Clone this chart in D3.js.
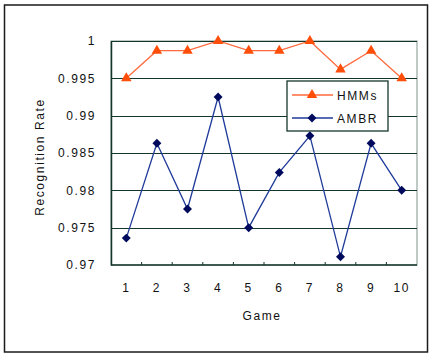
<!DOCTYPE html>
<html>
<head>
<meta charset="utf-8">
<script src="https://cdn.jsdelivr.net/npm/d3@7"></script>
<style>
  html, body { margin: 0; padding: 0; background: #fff; }
  svg text { font-family: "Liberation Sans", Arial, sans-serif; font-size: 12px; letter-spacing: 1.6px; fill: #111; }
</style>
</head>
<body>
<svg id="chart" width="430" height="354"></svg>
<script>
// Game numbers on the x axis
const games = ["1", "2", "3", "4", "5", "6", "7", "8", "9", "10"];
// Recognition rate per game
const hmms = [0.995, 0.9987, 0.9987, 1.0, 0.9987, 0.9987, 1.0, 0.9962, 0.9987, 0.995];
const ambr = [0.9736, 0.9863, 0.9775, 0.9925, 0.9750, 0.9824, 0.9873, 0.9711, 0.9863, 0.9800];
// Y tick values
const yTicks = [0.97, 0.975, 0.98, 0.985, 0.99, 0.995, 1];
const yTickLabels = ["0.97", "0.975", "0.98", "0.985", "0.99", "0.995", "1"];

const svg = d3.select("#chart");
const plot = { left: 111, top: 41, right: 417, bottom: 265 };

// outer frame
svg.append("rect").attr("x", 4.5).attr("y", 5).attr("width", 423).attr("height", 347)
  .attr("fill", "#fff").attr("stroke", "#1a1a1a").attr("stroke-width", 1.5);

const x = d3.scaleBand().domain(games).range([plot.left, plot.right]);
const y = d3.scaleLinear().domain([0.97, 1]).range([plot.bottom, plot.top]);

// plot area
svg.append("rect").attr("x", plot.left).attr("y", plot.top)
  .attr("width", plot.right - plot.left).attr("height", plot.bottom - plot.top)
  .attr("fill", "#fff").attr("stroke", "#7f958a").attr("stroke-width", 1);

// horizontal gridlines
svg.append("g").selectAll("line").data(yTicks.slice(1)).join("line")
  .attr("x1", plot.left).attr("x2", plot.right)
  .attr("y1", d => Math.round(y(d)) + 0.5).attr("y2", d => Math.round(y(d)) + 0.5)
  .attr("stroke", "#14362a").attr("stroke-width", 1.2);

// y axis
const yAxis = d3.axisLeft(y).tickValues(yTicks)
  .tickFormat((d, i) => yTickLabels[i]).tickSize(0).tickPadding(15);
const gy = svg.append("g").attr("transform", `translate(${plot.left},0)`).call(yAxis);
gy.select(".domain").attr("stroke", "#14362a").attr("stroke-width", 1.5);
gy.selectAll("text").attr("font-size", 12).attr("fill", "#111")
  .attr("font-family", "Liberation Sans, Arial, sans-serif");

// x axis with inner ticks at category boundaries
const gx = svg.append("g").attr("transform", `translate(0,${plot.bottom})`);
gx.append("line").attr("x1", plot.left).attr("x2", plot.right)
  .attr("y1", 0).attr("y2", 0).attr("stroke", "#14362a").attr("stroke-width", 1.5);
gx.selectAll("line.tick").data(games.slice(1)).join("line").attr("class", "tick")
  .attr("x1", d => x(d)).attr("x2", d => x(d)).attr("y1", 0).attr("y2", -3)
  .attr("stroke", "#14362a").attr("stroke-width", 1);
gx.selectAll("text").data(games).join("text")
  .attr("x", d => x(d) + x.bandwidth() / 2).attr("y", 27)
  .attr("text-anchor", "middle").text(d => d);

// axis titles
svg.append("text").attr("x", 262).attr("y", 320).attr("text-anchor", "middle").text("Game");
svg.append("text").attr("transform", "translate(44,157) rotate(-90)")
  .attr("text-anchor", "middle").text("Recognition Rate");

const cx = d => x(d) + x.bandwidth() / 2;
const line = d3.line().x((d, i) => cx(games[i])).y(d => y(d));

const tri = d3.symbol().type(d3.symbolTriangle).size(48);
const sq = d3.symbol().type(d3.symbolSquare).size(40);

// HMMs series
svg.append("path").datum(hmms).attr("d", line)
  .attr("fill", "none").attr("stroke", "#ff6a3d").attr("stroke-width", 1.3);
svg.append("g").selectAll("path").data(hmms).join("path")
  .attr("d", tri).attr("fill", "#ff4d0a")
  .attr("transform", (d, i) => `translate(${cx(games[i])},${y(d)})`);

// AMBR series (diamonds = squares turned 45°)
svg.append("path").datum(ambr).attr("d", line)
  .attr("fill", "none").attr("stroke", "#1f3a99").attr("stroke-width", 1.3);
svg.append("g").selectAll("path").data(ambr).join("path")
  .attr("d", sq).attr("fill", "#000a5c")
  .attr("transform", (d, i) => `translate(${cx(games[i])},${y(d)}) rotate(45)`);

// legend
const lg = svg.append("g");
lg.append("rect").attr("x", 287).attr("y", 81).attr("width", 101).attr("height", 50)
  .attr("fill", "#fff").attr("stroke", "#14362a").attr("stroke-width", 1.3);
const items = [
  { name: "HMMs", color: "#ff6a3d", mark: "#ff4d0a", sym: tri, rot: 0, yy: 95 },
  { name: "AMBR", color: "#1f3a99", mark: "#000a5c", sym: sq, rot: 45, yy: 118 }
];
items.forEach(it => {
  lg.append("line").attr("x1", 292).attr("x2", 333).attr("y1", it.yy).attr("y2", it.yy)
    .attr("stroke", it.color).attr("stroke-width", 1.3);
  lg.append("path").attr("d", it.sym).attr("fill", it.mark)
    .attr("transform", `translate(312,${it.yy}) rotate(${it.rot})`);
  lg.append("text").attr("x", 337).attr("y", it.yy + 4.5).text(it.name);
});
</script>
</body>
</html>
